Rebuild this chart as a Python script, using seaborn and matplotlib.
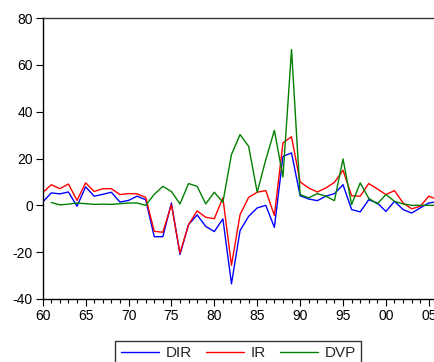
import numpy as np
import pandas as pd
import matplotlib
matplotlib.use("Agg")
import matplotlib.pyplot as plt
from matplotlib.ticker import MultipleLocator, FixedLocator, FixedFormatter
import seaborn as sns

years = list(range(1960, 2007))
dir_vals = [1.4, 5.3, 4.9, 5.7, -0.4, 7.9, 3.9, 4.7, 5.6, 1.4,
            2.1, 3.9, 2.4, -13.4, -13.4, 1.0, -21.0, -8.2, -4.1, -9.0,
            -11.2, -5.8, -33.5, -10.8, -4.7, -1.1, 0.0, -9.4, 20.9, 22.4,
            4.1, 2.7, 2.0, 3.9, 5.0, 8.8, -1.8, -2.8, 2.4, 1.0,
            -2.6, 1.7, -1.8, -3.3, -1.1, 1.0, 1.6]
ir_vals = [5.4, 8.8, 7.1, 9.1, 2.1, 9.6, 5.9, 7.1, 7.1, 4.6,
           5.0, 4.9, 3.4, -11.1, -11.5, 0.3, -20.4, -8.2, -2.4, -5.1,
           -5.7, 3.2, -25.6, -4.0, 3.4, 5.6, 6.3, -4.3, 26.7, 29.3,
           10.0, 7.4, 5.7, 7.4, 9.8, 15.0, 4.1, 3.9, 9.3, 7.0,
           4.6, 6.3, 1.0, -1.5, -0.4, 3.9, 2.5]
dvp_vals = [np.nan, 1.2, 0.2, 0.5, 1.0, 0.7, 0.4, 0.5, 0.4, 0.7,
            1.0, 1.0, 0.0, 4.7, 8.1, 5.9, 0.6, 9.3, 8.1, 0.6,
            5.6, 1.3, 21.7, 30.2, 25.2, 5.6, 19.5, 32.0, 12.1, 66.5,
            4.6, 3.2, 5.0, 3.9, 2.0, 19.8, 0.3, 9.6, 3.0, 0.6,
            4.6, 1.7, 0.6, 0.0, 0.0, 0.0, 0.0]
series_names = ["DIR", "IR", "DVP"]
series_colors = ["#0000ff", "#ff0000", "#008000"]
xtick_years = [1960, 1965, 1970, 1975, 1980, 1985, 1990, 1995, 2000, 2005]
xtick_labels = ["60", "65", "70", "75", "80", "85", "90", "95", "00", "05"]
yticks = [-40, -20, 0, 20, 40, 60, 80]

df = pd.DataFrame({"year": years, "DIR": dir_vals, "IR": ir_vals, "DVP": dvp_vals})
long = df.melt(id_vars="year", var_name="series", value_name="value")

sns.set_style("white")
plt.rcParams["font.family"] = ["Liberation Sans", "DejaVu Sans"]
plt.rcParams["axes.unicode_minus"] = False

fig = plt.figure(figsize=(4.35, 3.62), dpi=100)
ax = fig.add_axes([42.7 / 435, (362 - 299) / 362, 394.7 / 435, 281 / 362])

sns.lineplot(data=long, x="year", y="value", hue="series", hue_order=series_names,
             palette=dict(zip(series_names, series_colors)), linewidth=1.0,
             ax=ax, legend=False, estimator=None)

ax.set_xlim(1960, 2006)
ax.set_ylim(-40, 80)
ax.set_xlabel("")
ax.set_ylabel("")
ax.xaxis.set_major_locator(FixedLocator(xtick_years))
ax.xaxis.set_major_formatter(FixedFormatter(xtick_labels))
ax.xaxis.set_minor_locator(MultipleLocator(1))
ax.set_yticks(yticks)
ax.set_yticklabels([str(v) for v in yticks])
ax.tick_params(axis="both", which="major", direction="out", length=5, width=0.8,
               color="black", labelsize=10, labelcolor="black", pad=2)
ax.tick_params(axis="x", which="minor", direction="out", length=3, width=0.8,
               color="black", bottom=True)
ax.tick_params(axis="x", which="both", bottom=True)
ax.tick_params(axis="y", left=True)
for side in ["left", "bottom", "top"]:
    ax.spines[side].set_visible(True)
    ax.spines[side].set_color("black")
    ax.spines[side].set_linewidth(1.0)
ax.spines["top"].set_color("#333333")
ax.spines["right"].set_visible(False)

handles = [plt.Line2D([], [], color=c, linewidth=1.0) for c in series_colors]
leg = fig.legend(handles, series_names, loc="upper center", bbox_to_anchor=(0.548, 0.058),
                 ncol=3, frameon=True, fancybox=False, edgecolor="black",
                 fontsize=11, handlelength=2.5, columnspacing=0.9, handletextpad=0.45,
                 borderaxespad=0, borderpad=0.35)
leg.get_frame().set_linewidth(1.0)

fig.savefig("out.png", dpi=100)
